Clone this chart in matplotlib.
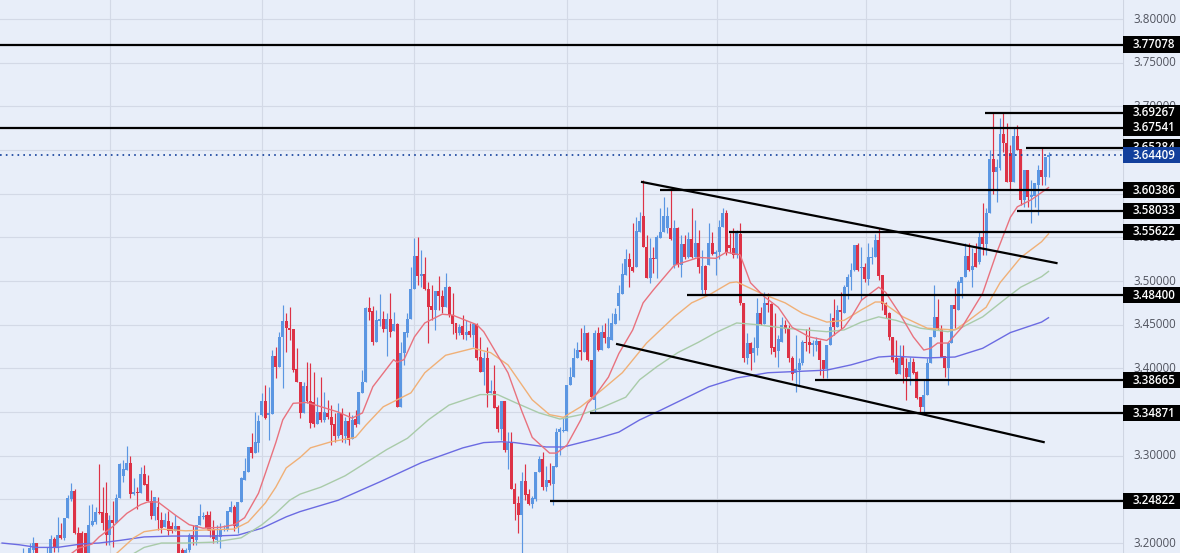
import matplotlib
matplotlib.use('Agg')
import matplotlib.pyplot as plt
from matplotlib.patches import Rectangle
import numpy as np

# candles
opens = [
    3.175,3.180,3.178,3.182,3.180,3.184,3.183,3.187,3.186,3.192,
    3.200,3.185,3.182,3.184,3.187,3.205,3.194,3.209,3.206,3.229,
    3.250,3.260,3.212,3.212,3.212,3.188,3.221,3.224,3.236,3.236,
    3.234,3.209,3.226,3.223,3.252,3.277,3.284,3.292,3.256,3.258,
    3.257,3.279,3.268,3.248,3.231,3.241,3.226,3.218,3.225,3.219,
    3.214,3.219,3.192,3.186,3.192,3.209,3.204,3.221,3.230,3.232,
    3.232,3.215,3.204,3.207,3.215,3.215,3.236,3.241,3.218,3.247,
    3.272,3.281,3.310,3.303,3.315,3.347,3.363,3.347,3.348,3.414,
    3.402,3.436,3.454,3.446,3.445,3.399,3.384,3.349,3.380,3.363,
    3.361,3.336,3.350,3.341,3.349,3.344,3.336,3.323,3.349,3.323,
    3.340,3.319,3.342,3.336,3.372,3.384,3.469,3.466,3.430,3.454,
    3.457,3.445,3.457,3.443,3.451,3.356,3.418,3.441,3.457,3.491,
    3.529,3.506,3.508,3.491,3.471,3.467,3.489,3.483,3.470,3.493,
    3.461,3.452,3.441,3.448,3.438,3.443,3.438,3.451,3.413,3.396,
    3.412,3.372,3.374,3.356,3.331,3.363,3.307,3.316,3.262,3.246,
    3.232,3.271,3.256,3.245,3.250,3.281,3.296,3.264,3.272,3.268,
    3.287,3.327,3.328,3.328,3.381,3.390,3.412,3.421,3.419,3.441,
    3.410,3.364,3.441,3.421,3.442,3.423,3.432,3.451,3.471,3.485,
    3.507,3.525,3.516,3.516,3.556,3.574,3.539,3.503,3.526,3.525,
    3.549,3.556,3.561,3.561,3.518,3.561,3.518,3.542,3.527,3.548,
    3.527,3.544,3.490,3.517,3.518,3.544,3.531,3.533,3.562,3.578,
    3.541,3.538,3.530,3.554,3.475,3.412,3.429,3.418,3.423,3.463,
    3.451,3.475,3.474,3.424,3.420,3.430,3.450,3.445,3.412,3.395,
    3.398,3.406,3.430,3.430,3.427,3.427,3.431,3.410,3.399,3.427,
    3.458,3.447,3.467,3.463,3.493,3.505,3.513,3.541,3.515,3.516,
    3.502,3.526,3.527,3.547,3.507,3.475,3.463,3.436,3.412,3.394,
    3.414,3.400,3.390,3.407,3.396,3.367,3.356,3.370,3.406,3.436,
    3.459,3.445,3.414,3.400,3.429,3.473,3.467,3.498,3.505,3.529,
    3.513,3.532,3.522,3.550,3.542,3.578,3.640,3.625,3.629,3.668,
    3.658,3.647,3.613,3.666,3.651,3.593,3.627,3.596,3.597,3.610,
    3.627,3.619,3.642]
closes = [
    3.180,3.178,3.182,3.180,3.184,3.183,3.187,3.185,3.194,3.200,
    3.185,3.182,3.186,3.187,3.205,3.194,3.209,3.206,3.229,3.252,
    3.260,3.212,3.188,3.188,3.188,3.221,3.225,3.236,3.234,3.223,
    3.209,3.226,3.223,3.252,3.291,3.285,3.292,3.256,3.258,3.257,
    3.279,3.266,3.248,3.231,3.253,3.226,3.217,3.226,3.214,3.214,
    3.219,3.188,3.186,3.192,3.209,3.205,3.221,3.231,3.231,3.217,
    3.214,3.205,3.209,3.216,3.216,3.237,3.241,3.219,3.247,3.274,
    3.283,3.310,3.303,3.316,3.340,3.363,3.343,3.349,3.414,3.402,
    3.436,3.454,3.446,3.444,3.398,3.384,3.349,3.380,3.363,3.337,
    3.336,3.350,3.341,3.350,3.344,3.335,3.323,3.349,3.324,3.340,
    3.318,3.341,3.335,3.373,3.384,3.469,3.465,3.430,3.455,3.457,
    3.445,3.457,3.442,3.451,3.356,3.418,3.442,3.457,3.491,3.529,
    3.506,3.508,3.491,3.470,3.467,3.489,3.483,3.470,3.493,3.461,
    3.451,3.441,3.447,3.438,3.442,3.438,3.451,3.412,3.396,3.412,
    3.372,3.374,3.355,3.331,3.363,3.307,3.315,3.262,3.245,3.232,
    3.271,3.255,3.245,3.252,3.281,3.296,3.264,3.272,3.269,3.288,
    3.327,3.331,3.329,3.381,3.390,3.412,3.421,3.419,3.441,3.410,
    3.367,3.441,3.421,3.442,3.435,3.436,3.452,3.462,3.486,3.508,
    3.525,3.516,3.511,3.557,3.569,3.539,3.503,3.526,3.525,3.550,
    3.556,3.574,3.574,3.548,3.561,3.518,3.542,3.527,3.548,3.527,
    3.544,3.516,3.517,3.490,3.544,3.531,3.533,3.562,3.578,3.532,
    3.538,3.530,3.555,3.475,3.412,3.429,3.417,3.423,3.463,3.451,
    3.475,3.473,3.423,3.419,3.434,3.450,3.445,3.412,3.394,3.399,
    3.406,3.430,3.429,3.427,3.429,3.431,3.410,3.399,3.427,3.447,
    3.447,3.467,3.465,3.493,3.505,3.513,3.541,3.513,3.516,3.502,
    3.527,3.527,3.547,3.506,3.474,3.461,3.436,3.410,3.394,3.412,
    3.404,3.390,3.407,3.395,3.366,3.356,3.370,3.406,3.436,3.459,
    3.445,3.413,3.400,3.429,3.473,3.468,3.499,3.505,3.529,3.513,
    3.517,3.516,3.550,3.542,3.578,3.640,3.625,3.631,3.668,3.658,
    3.613,3.613,3.666,3.650,3.593,3.627,3.596,3.598,3.612,3.627,
    3.619,3.642,3.644]
highs = [
    3.183,3.184,3.184,3.184,3.186,3.186,3.194,3.189,3.200,3.207,
    3.200,3.188,3.188,3.195,3.209,3.207,3.230,3.223,3.229,3.255,
    3.269,3.262,3.218,3.214,3.212,3.243,3.245,3.241,3.290,3.264,
    3.270,3.232,3.248,3.256,3.292,3.295,3.311,3.300,3.275,3.264,
    3.287,3.289,3.278,3.261,3.253,3.253,3.236,3.234,3.237,3.224,
    3.232,3.220,3.194,3.194,3.212,3.221,3.221,3.245,3.236,3.237,
    3.237,3.226,3.221,3.223,3.221,3.237,3.248,3.243,3.247,3.276,
    3.297,3.310,3.326,3.350,3.347,3.372,3.381,3.379,3.421,3.424,
    3.442,3.473,3.463,3.470,3.445,3.423,3.384,3.384,3.407,3.406,
    3.396,3.367,3.390,3.373,3.364,3.358,3.349,3.360,3.355,3.344,
    3.350,3.347,3.352,3.373,3.398,3.470,3.482,3.471,3.467,3.485,
    3.466,3.463,3.486,3.464,3.452,3.430,3.442,3.463,3.516,3.549,
    3.550,3.535,3.527,3.499,3.495,3.489,3.506,3.490,3.509,3.494,
    3.486,3.452,3.451,3.461,3.455,3.452,3.451,3.452,3.436,3.419,
    3.424,3.387,3.404,3.358,3.363,3.363,3.327,3.327,3.269,3.254,
    3.281,3.291,3.262,3.254,3.281,3.300,3.304,3.288,3.292,3.288,
    3.332,3.333,3.343,3.381,3.402,3.423,3.430,3.446,3.450,3.442,
    3.410,3.444,3.447,3.450,3.452,3.458,3.463,3.469,3.495,3.521,
    3.537,3.532,3.566,3.573,3.579,3.616,3.553,3.549,3.539,3.553,
    3.584,3.596,3.585,3.604,3.570,3.562,3.553,3.553,3.556,3.584,
    3.570,3.558,3.535,3.518,3.566,3.556,3.535,3.570,3.584,3.581,
    3.555,3.561,3.558,3.566,3.475,3.441,3.430,3.436,3.481,3.470,
    3.487,3.486,3.475,3.463,3.438,3.459,3.455,3.450,3.414,3.438,
    3.412,3.432,3.445,3.447,3.432,3.436,3.432,3.410,3.427,3.463,
    3.480,3.473,3.487,3.496,3.508,3.521,3.541,3.544,3.539,3.521,
    3.544,3.539,3.554,3.561,3.507,3.476,3.464,3.436,3.432,3.427,
    3.427,3.412,3.413,3.412,3.397,3.367,3.387,3.412,3.436,3.495,
    3.480,3.450,3.414,3.429,3.473,3.492,3.501,3.505,3.544,3.544,
    3.538,3.544,3.557,3.589,3.584,3.650,3.692,3.640,3.687,3.694,
    3.681,3.656,3.675,3.679,3.651,3.627,3.627,3.616,3.612,3.633,
    3.653,3.642,3.648]
lows = [
    3.172,3.175,3.175,3.178,3.177,3.180,3.178,3.180,3.180,3.188,
    3.180,3.178,3.178,3.180,3.182,3.190,3.190,3.205,3.204,3.229,
    3.248,3.210,3.180,3.180,3.180,3.180,3.220,3.222,3.233,3.215,
    3.198,3.198,3.195,3.223,3.252,3.270,3.284,3.252,3.255,3.239,
    3.257,3.266,3.248,3.228,3.226,3.215,3.212,3.218,3.209,3.212,
    3.214,3.180,3.180,3.180,3.190,3.198,3.198,3.221,3.228,3.215,
    3.207,3.200,3.200,3.194,3.214,3.214,3.236,3.214,3.212,3.247,
    3.272,3.281,3.297,3.303,3.304,3.345,3.342,3.318,3.348,3.389,
    3.402,3.378,3.419,3.432,3.396,3.384,3.343,3.349,3.360,3.332,
    3.333,3.336,3.339,3.339,3.342,3.312,3.316,3.320,3.316,3.315,
    3.312,3.319,3.333,3.336,3.372,3.384,3.455,3.427,3.430,3.449,
    3.442,3.414,3.436,3.443,3.356,3.356,3.404,3.436,3.457,3.491,
    3.495,3.493,3.490,3.429,3.455,3.444,3.467,3.463,3.470,3.459,
    3.439,3.434,3.438,3.434,3.432,3.436,3.424,3.410,3.396,3.381,
    3.356,3.372,3.355,3.327,3.318,3.304,3.285,3.262,3.226,3.212,
    3.180,3.249,3.243,3.240,3.248,3.281,3.261,3.260,3.266,3.243,
    3.287,3.301,3.327,3.328,3.381,3.390,3.412,3.410,3.419,3.408,
    3.365,3.349,3.420,3.421,3.429,3.423,3.432,3.451,3.455,3.485,
    3.507,3.493,3.510,3.516,3.556,3.539,3.503,3.498,3.509,3.503,
    3.549,3.556,3.555,3.547,3.515,3.516,3.505,3.525,3.526,3.526,
    3.527,3.509,3.484,3.484,3.518,3.530,3.507,3.525,3.562,3.530,
    3.532,3.526,3.526,3.473,3.407,3.405,3.398,3.407,3.415,3.450,
    3.451,3.465,3.417,3.413,3.402,3.430,3.440,3.407,3.387,3.373,
    3.381,3.404,3.420,3.418,3.414,3.420,3.392,3.389,3.389,3.427,
    3.438,3.447,3.445,3.463,3.480,3.490,3.512,3.511,3.478,3.499,
    3.495,3.520,3.527,3.501,3.467,3.458,3.432,3.407,3.394,3.394,
    3.383,3.364,3.381,3.394,3.365,3.350,3.347,3.370,3.406,3.436,
    3.444,3.413,3.390,3.381,3.429,3.446,3.467,3.481,3.505,3.512,
    3.493,3.516,3.520,3.530,3.530,3.578,3.600,3.591,3.627,3.648,
    3.613,3.604,3.613,3.650,3.587,3.585,3.585,3.566,3.585,3.576,
    3.610,3.610,3.619]

# moving averages, sampled by eye at these bar numbers
ma_fast_bar = [20,22,26,28,32,36,40,42,45,50,54,58,63,67,70,74,76,79,81,84,88,97,101,104,107,113,114,116,119,122,127,130,137,139,146,150,153,158,160,163,167,169,171,175,178,182,185,188,194,201,206,209,213,216,220,224,228,233,238,243,245,248,253,255,259,263,266,268,270,273,277,283,287,291,293,297,302]
ma_fast = [3.188,3.194,3.199,3.207,3.219,3.234,3.244,3.247,3.247,3.232,3.221,3.217,3.218,3.221,3.229,3.257,3.280,3.315,3.341,3.360,3.361,3.350,3.343,3.349,3.379,3.410,3.407,3.410,3.436,3.452,3.462,3.461,3.450,3.442,3.395,3.351,3.321,3.303,3.303,3.312,3.341,3.360,3.368,3.390,3.417,3.444,3.475,3.490,3.518,3.527,3.526,3.533,3.530,3.498,3.482,3.470,3.447,3.436,3.432,3.447,3.458,3.478,3.493,3.487,3.463,3.436,3.421,3.423,3.429,3.429,3.447,3.486,3.532,3.573,3.585,3.593,3.607]

ma_mid_bar = [33,38,41,46,53,59,67,71,76,79,82,86,89,95,102,105,110,114,118,122,128,136,141,146,153,158,162,167,173,179,186,194,199,204,210,212,219,226,231,238,243,248,252,254,260,267,275,279,284,288,294,300,302]
ma_mid = [3.188,3.206,3.213,3.216,3.214,3.215,3.216,3.224,3.246,3.264,3.286,3.298,3.309,3.316,3.321,3.335,3.356,3.364,3.372,3.395,3.415,3.423,3.418,3.404,3.364,3.347,3.344,3.356,3.375,3.395,3.429,3.459,3.475,3.484,3.498,3.499,3.486,3.475,3.463,3.453,3.455,3.467,3.476,3.476,3.459,3.446,3.444,3.455,3.470,3.498,3.527,3.545,3.554]

ma_slow_bar = [38,41,46,53,61,69,75,79,83,86,92,99,105,111,117,123,129,138,143,148,155,161,167,173,180,184,189,195,201,206,212,218,226,238,243,248,253,258,265,273,277,283,290,294,300,302]
ma_slow = [3.188,3.195,3.200,3.200,3.201,3.206,3.221,3.234,3.249,3.256,3.264,3.277,3.292,3.307,3.320,3.341,3.358,3.370,3.370,3.361,3.349,3.342,3.347,3.355,3.367,3.387,3.402,3.418,3.430,3.441,3.452,3.450,3.446,3.442,3.444,3.453,3.459,3.455,3.446,3.442,3.447,3.459,3.481,3.493,3.505,3.511]

ma_long_bar = [0,5,10,16,23,28,34,41,49,61,68,75,82,86,97,109,121,133,139,144,148,157,162,172,178,184,190,204,212,221,238,245,253,257,267,275,283,291,300,302]
ma_long = [3.200,3.198,3.195,3.195,3.199,3.200,3.203,3.207,3.208,3.208,3.209,3.217,3.230,3.236,3.249,3.270,3.292,3.309,3.315,3.316,3.315,3.310,3.310,3.320,3.327,3.341,3.352,3.379,3.389,3.395,3.398,3.404,3.413,3.414,3.412,3.413,3.423,3.441,3.453,3.458]

# horizontal levels: price and the bar where each one starts (None = left edge)
level_prices = [3.77078, 3.69267, 3.67541, 3.65284, 3.60386, 3.58033, 3.55622, 3.48400, 3.38665, 3.34871, 3.24822]
level_starts = [None, 283.7, None, 295.5, 189.9, 292.9, 209.8, 197.7, 234.6, 169.7, 158.1]

# channel lines
upper_bars = [184.7, 304.3]
upper_prices = [3.6134, 3.5206]
lower_bars = [177.5, 300.6]
lower_prices = [3.4278, 3.3156]

last_price = 3.64409
price_ticks = [3.20, 3.25, 3.30, 3.35, 3.40, 3.45, 3.50, 3.55, 3.60, 3.65, 3.70, 3.75, 3.80]
# these scale labels sit fully behind a level box in the picture
hidden_ticks = [3.25, 3.35, 3.60, 3.65]
time_grid = [31.2, 75.0, 118.9, 163.0, 206.3, 249.4, 290.9]

BG = '#e8eef9'
GRID = '#d3d9e6'
UP = '#5b96e2'
DOWN = '#dd3246'

YLIM = (3.1886, 3.8218)
XLIM = (-0.6, 323.5)

plt.rcParams['font.family'] = ['Open Sans', 'DejaVu Sans']

fig = plt.figure(figsize=(11.8, 5.53), dpi=100, facecolor=BG)
ax = fig.add_axes([0, 0, 1123 / 1180, 1], facecolor=BG)
side = fig.add_axes([1123 / 1180, 0, 57 / 1180, 1], facecolor=BG)

x = np.arange(len(opens))
o = np.array(opens)
c = np.array(closes)
colors = np.where(c >= o, UP, DOWN)

ax.vlines(x, lows, highs, colors=colors, linewidth=0.85, zorder=2)
ax.bar(x, np.abs(c - o), bottom=np.minimum(o, c), width=0.86, color=colors, linewidth=0, zorder=3)

ax.plot(ma_long_bar, ma_long, color='#6b6be2', lw=1.0, zorder=4)
ax.plot(ma_slow_bar, ma_slow, color='#a9cba9', lw=1.0, zorder=4)
ax.plot(ma_mid_bar, ma_mid, color='#f0b077', lw=1.0, zorder=4)
ax.plot(ma_fast_bar, ma_fast, color='#e8727e', lw=1.0, zorder=4)

for price, start in zip(level_prices, level_starts):
    left = XLIM[0] if start is None else start
    ax.plot([left, XLIM[1]], [price, price], color='black', lw=1.6, zorder=5, solid_capstyle='butt')

ax.plot(upper_bars, upper_prices, color='black', lw=1.6, zorder=5)
ax.plot(lower_bars, lower_prices, color='black', lw=1.6, zorder=5)
ax.axhline(last_price, color='#123f9c', lw=1.2, ls=(0, (1, 2.5)), zorder=5)

ax.set_xlim(XLIM)
ax.set_ylim(YLIM)
ax.set_xticks(time_grid)
ax.set_yticks(price_ticks)
ax.grid(True, color=GRID, linewidth=0.8)
ax.set_axisbelow(True)
ax.tick_params(length=0, labelleft=False, labelbottom=False)
for spine in ax.spines.values():
    spine.set_visible(False)

# price scale on the right
side.set_xlim(0, 57)
side.set_ylim(YLIM)
side.axis('off')
side.axvline(0.4, color='#cfd5e2', lw=0.8, zorder=1)
for tick in price_ticks:
    if tick in hidden_ticks:
        continue
    side.text(10, tick, f'{tick:.5f}', fontsize=8.3, color='#50535e', va='center', ha='left', zorder=1)

BOX = 0.0186
for price in level_prices:
    side.add_patch(Rectangle((0, price - BOX / 2), 57, BOX, color='black', lw=0, zorder=2))
    side.text(10, price, f'{price:.5f}', fontsize=8.3, color='white', fontweight='semibold', va='center', ha='left', zorder=3)
side.add_patch(Rectangle((0, last_price - BOX / 2), 57, BOX, color='#123f9c', lw=0, zorder=4))
side.text(10, last_price, f'{last_price:.5f}', fontsize=8.3, color='white', fontweight='semibold', va='center', ha='left', zorder=5)

fig.savefig('out.png', dpi=100, facecolor=BG)
